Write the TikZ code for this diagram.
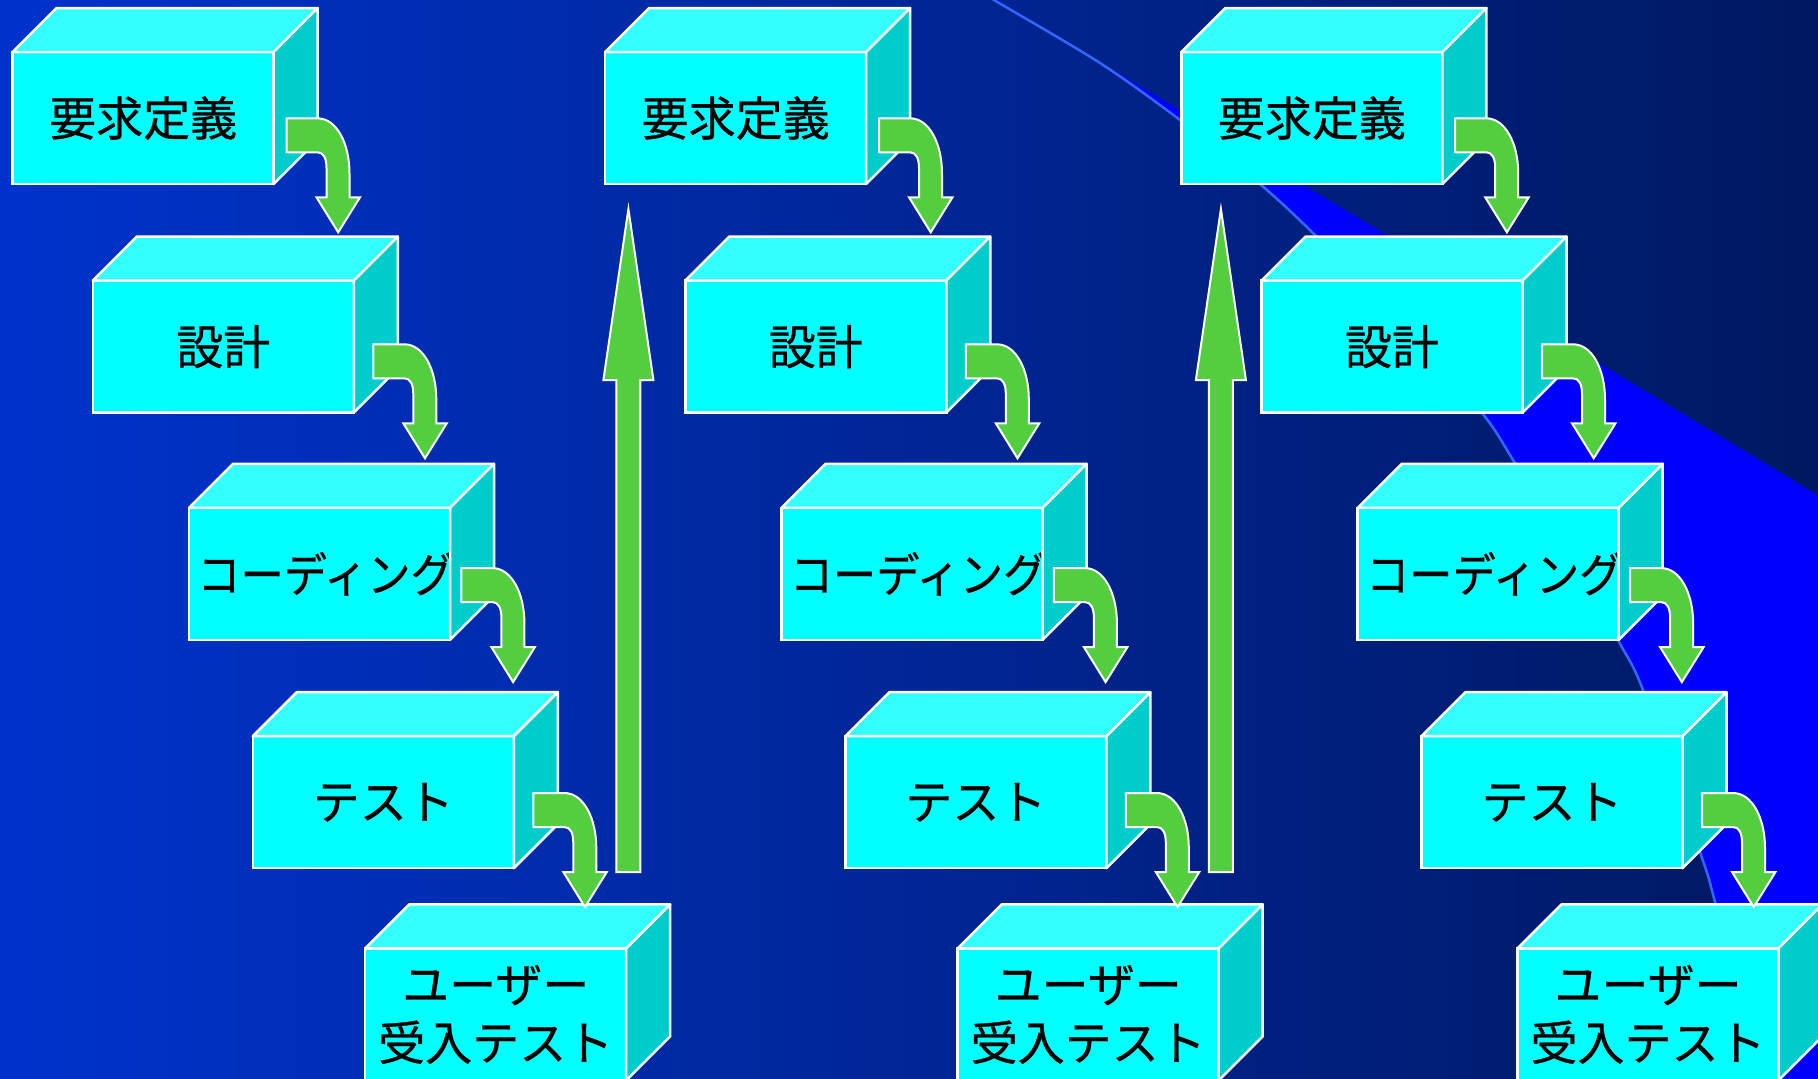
\documentclass[tikz,border=0pt]{standalone}
\usepackage{fontspec}
\usepackage{graphicx}
\newfontfamily\jp[FakeBold=0.6]{Noto Sans CJK JP}
\usetikzlibrary{calc}
\definecolor{bgL}{RGB}{0,51,204}
\definecolor{bgR}{RGB}{0,24,96}
\definecolor{brightblue}{RGB}{0,0,255}
\definecolor{lineblue}{RGB}{51,102,255}
\definecolor{cyanfront}{RGB}{0,255,255}
\definecolor{cyantop}{RGB}{51,255,255}
\definecolor{cyanside}{RGB}{0,204,204}
\definecolor{arrowgreen}{RGB}{82,206,62}
\tikzset{
  front/.style={draw=white, line width=2.5pt, fill=cyanfront, minimum width=261pt,
    minimum height=132pt, inner sep=0pt, outer sep=0pt, anchor=north west,
    font=\jp\fontsize{47}{58}\selectfont, text=black, align=center},
  face/.style={draw=white, line width=2.5pt, line join=round},
  blockarrow/.style={draw=white, line width=2pt, fill=arrowgreen, line join=miter},
  bent/.pic={
    \path[blockarrow] (0,0) -- (31,0) .. controls (50,0) and (63,25) .. (63,55)
      -- (63,79) -- (73.5,79) -- (51.7,114) -- (30,79) -- (40,79) -- (40,50)
      .. controls (40,40) and (37,34) .. (31,34) -- (0,34) -- cycle;
  },
  uparrow/.pic={
    \path[blockarrow] (-12,0) -- (-12,-492) -- (-25,-492) -- (0,-663) -- (25,-492)
      -- (12,-492) -- (12,0) -- cycle;
  }
}
\newcommand\mybox[4]{%
  \node[front] (#1) at (#2,#3) {#4};
  \draw[face, fill=cyantop] (#1.north west) -- ++(44,-44) -- ([shift={(44,-44)}]#1.north east) -- (#1.north east) -- cycle;
  \draw[face, fill=cyanside] (#1.north east) -- ++(44,-44) -- ([shift={(44,-44)}]#1.south east) -- (#1.south east) -- cycle;
}
\newcommand\mycolumn[3]{% prefix, x offset, last-row x
  \mybox{#1a}{12.7+#2}{52}{要求定義}
  \mybox{#1b}{92.8+#2}{280.6}{設計}
  \mybox{#1c}{189+#2}{507.8}{\makebox[0pt]{\hspace*{12pt}\scalebox{0.92}[1]{コーディング}}}
  \mybox{#1d}{252.8+#2}{736.2}{テスト}
  \mybox{#1e}{#3}{948.4}{ユーザー\\受入テスト}
  \pic (#1p1) at ($(#1a.north east)+(12.8,66.3)$) {bent};
  \pic (#1p2) at ($(#1b.north east)+(19.5,63.7)$) {bent};
  \pic (#1p3) at ($(#1c.north east)+(11.4,60.3)$) {bent};
  \pic (#1p4) at ($(#1d.north east)+(19.5,56.8)$) {bent};
}
\begin{document}
\begin{tikzpicture}[x=1pt,y=-1pt]
\useasboundingbox (0,0) rectangle (1818,1079);
\clip (0,0) rectangle (1818,1079);
\shade[left color=bgL, right color=bgR] (0,0) rectangle (1818,1079);
% bright blue wedge
\begin{scope}
  \clip plot[smooth] coordinates {(950,-26) (994,0) (1100,63) (1180,120) (1260,184) (1315,235) (1400,322) (1482,413) (1515,463) (1570,550) (1618,640) (1643,690) (1700,852) (1715,902) (1760,1079) (1775,1120)}
    -- (1900,1120) -- (1900,-40) -- cycle;
  \fill[brightblue] (900,-58.6) -- (1818,495) -- (1900,495) -- (1900,1120) -- (900,1120) -- cycle;
\end{scope}
\draw[lineblue, line width=2.5pt] plot[smooth] coordinates {(950,-26) (994,0) (1100,63) (1180,120) (1260,184) (1315,235) (1400,322) (1482,413) (1515,463) (1570,550) (1618,640) (1643,690) (1700,852) (1715,902) (1760,1079) (1775,1120)};
% columns
\mycolumn{A}{0}{365.2}
\mycolumn{B}{592.5}{957.7}
\mycolumn{C}{1168.7}{1517.5}
% return arrows
\coordinate (u1) at (628.4,872);
\coordinate (u2) at (1220.9,872);
\pic (U1) at (u1) {uparrow};
\pic (U2) at (u2) {uparrow};
\end{tikzpicture}
\end{document}
